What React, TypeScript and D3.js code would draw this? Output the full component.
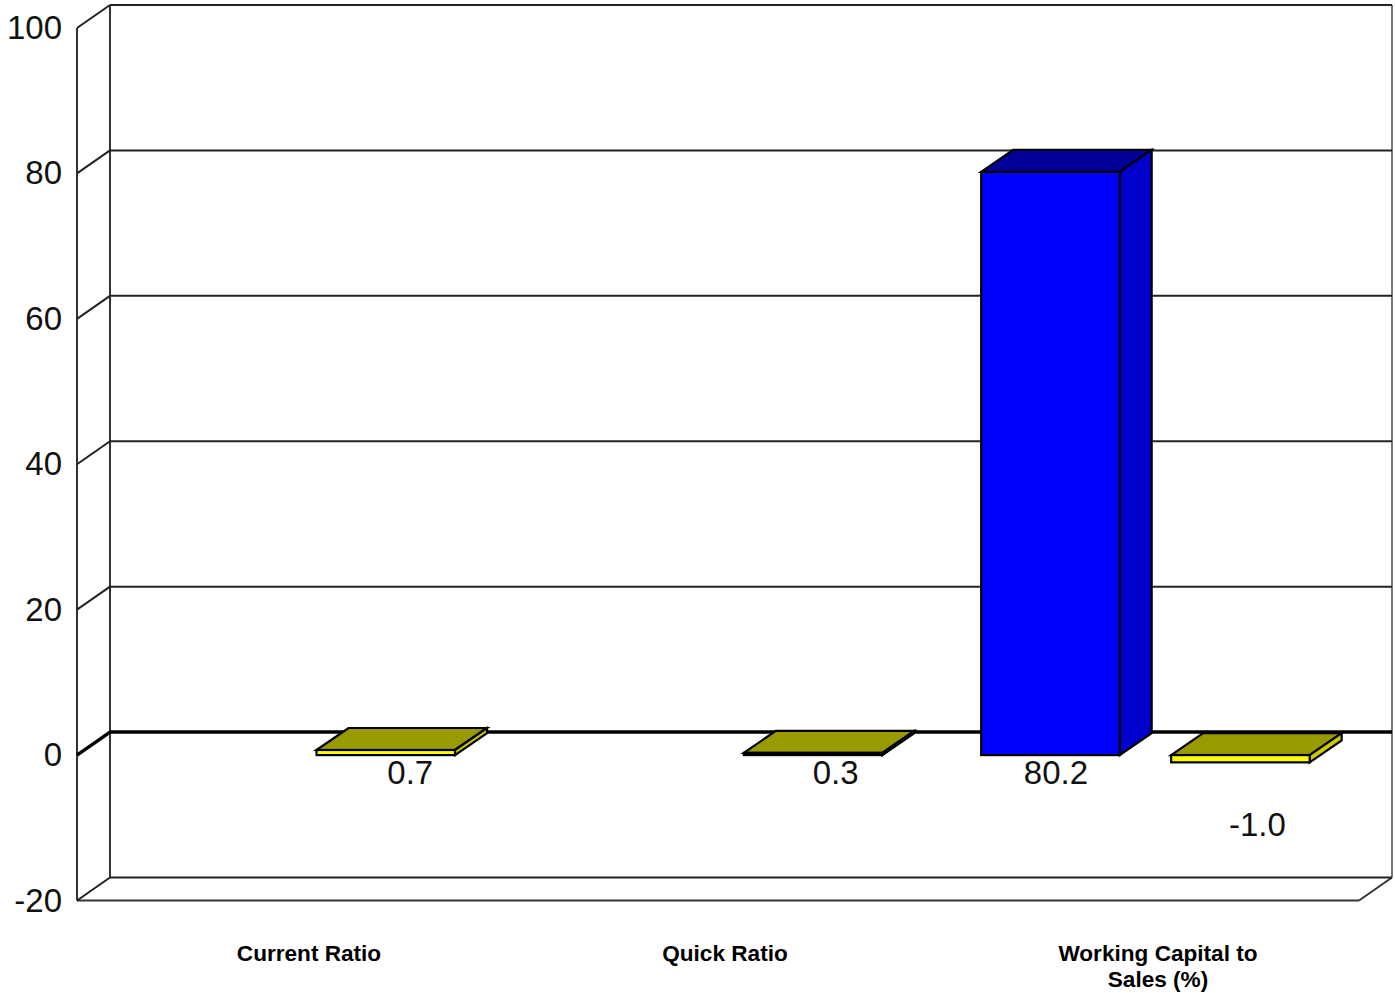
import React from "react";
import * as d3 from "d3";

// Financial ratios shown as a 3D clustered column chart
const categories = ["Current Ratio", "Quick Ratio", "Working Capital to Sales (%)"];
const blueValues: (number | null)[] = [null, null, 80.2];
const yellowValues: (number | null)[] = [0.7, 0.3, -1.0];
const yTicks = [-20, 0, 20, 40, 60, 80, 100];

const WIDTH = 1395;
const HEIGHT = 993;
const FONT = "'Liberation Sans', Arial, sans-serif";

// Front plane of the box, and the offset from it to the back wall
const FRONT_LEFT = 77;
const FRONT_RIGHT = 1359;
const DEPTH_X = 33;
const DEPTH_Y = -23;
// Columns sit slightly shallower than the box itself
const BAR_DEPTH_X = 32;
const BAR_DEPTH_Y = -22;

const y = d3.scaleLinear().domain([-20, 100]).range([900.5, 28]);
const x0 = d3.scaleBand<number>().domain([0, 1, 2]).range([FRONT_LEFT, FRONT_RIGHT]);
// Slots inside one category: 49px lead-in, then bars at a 190px pitch, 138px wide
const slot = (i: number) => (i === 0 ? 49.5 : 239.5);
const BAR_W = 138.5;

const SKINS = [
  { front: "#0000ff", top: "#000099", side: "#0000cc" },
  { front: "#ffff00", top: "#999900", side: "#cccc00" },
];

// Per-label horizontal centre relative to the bar's centre
const labelShift: Record<string, number> = { "0.7": 24.5, "0.3": 22.5, "80.2": 5.5, "-1.0": 17 };

function Bar({ cat, series, value }: { cat: number; series: number; value: number }) {
  const left = (x0(cat) as number) + slot(series);
  const right = left + BAR_W;
  const yTop = y(Math.max(0, value));
  const yBottom = y(Math.min(0, value));
  const skin = SKINS[series];
  const pts = (p: number[][]) => p.map((q) => q.join(",")).join(" ");
  const topFace = pts([
    [left, yTop],
    [left + BAR_DEPTH_X, yTop + BAR_DEPTH_Y],
    [right + BAR_DEPTH_X, yTop + BAR_DEPTH_Y],
    [right, yTop],
  ]);
  const sideFace = pts([
    [right, yTop],
    [right + BAR_DEPTH_X, yTop + BAR_DEPTH_Y],
    [right + BAR_DEPTH_X, yBottom + BAR_DEPTH_Y],
    [right, yBottom],
  ]);
  const text = value.toFixed(1);
  const labelY = value < 0 ? yBottom + 74 : y(0) + 28.5;
  return (
    <g stroke="#000" strokeWidth={2.2} strokeLinejoin="miter">
      <polygon points={topFace} fill={skin.top} />
      <polygon points={sideFace} fill={skin.side} />
      <rect x={left} y={yTop} width={BAR_W} height={yBottom - yTop} fill={skin.front} />
      <text
        x={left + BAR_W / 2 + labelShift[text]}
        y={labelY}
        textAnchor="middle"
        stroke="none"
        fill="#111"
        fontSize={33}
        fontFamily={FONT}
      >
        {text}
      </text>
    </g>
  );
}

export default function App() {
  const backLeft = FRONT_LEFT + DEPTH_X;
  const backRight = FRONT_RIGHT + DEPTH_X;
  const bars = [blueValues, yellowValues];
  const categoryLines = [["Current Ratio"], ["Quick Ratio"], ["Working Capital to", "Sales (%)"]];
  const categoryCentres = [309, 725, 1158];
  return (
    <svg
      width={WIDTH}
      height={HEIGHT}
      style={{ position: "absolute", left: 0, top: 0, background: "#fff" }}
    >
      {/* Box frame */}
      <g stroke="#333" strokeWidth={2} fill="none">
        <line x1={FRONT_LEFT} x2={FRONT_LEFT} y1={y(100)} y2={y(-20)} />
        <line x1={backLeft} x2={backLeft} y1={y(100) + DEPTH_Y} y2={y(-20) + DEPTH_Y} />
        <line x1={backRight} x2={backRight} y1={y(100) + DEPTH_Y} y2={y(-20) + DEPTH_Y} stroke="#777" />
        <line x1={FRONT_LEFT} x2={FRONT_RIGHT} y1={y(-20)} y2={y(-20)} />
        <line x1={FRONT_RIGHT} x2={backRight} y1={y(-20)} y2={y(-20) + DEPTH_Y} />
      </g>

      {/* Gridlines along the back wall and the left side */}
      {yTicks.map((t) => {
        const w = t === 0 ? 3.5 : 2;
        const c = t === 0 ? "#000" : "#222";
        return (
          <g key={t} stroke={c} strokeWidth={w}>
            <line x1={FRONT_LEFT} y1={y(t)} x2={backLeft} y2={y(t) + DEPTH_Y} />
            <line x1={backLeft} y1={y(t) + DEPTH_Y} x2={backRight} y2={y(t) + DEPTH_Y} />
          </g>
        );
      })}

      {/* Value axis labels */}
      {yTicks.map((t) => (
        <text key={t} x={62} y={y(t) + 11} textAnchor="end" fontSize={33} fontFamily={FONT} fill="#111">
          {t}
        </text>
      ))}

      {/* Columns */}
      {bars.map((vals, s) =>
        vals.map((v, c) => (v === null ? null : <Bar key={`${s}-${c}`} cat={c} series={s} value={v} />))
      )}

      {/* Category labels */}
      {categories.map((name, i) => (
        <text key={name} textAnchor="middle" fontFamily={FONT} fontWeight="bold" fontSize={22.6} fill="#000">
          {categoryLines[i].map((line, k) => (
            <tspan key={line} x={categoryCentres[i]} y={961 + k * 26}>
              {line}
            </tspan>
          ))}
        </text>
      ))}
    </svg>
  );
}
